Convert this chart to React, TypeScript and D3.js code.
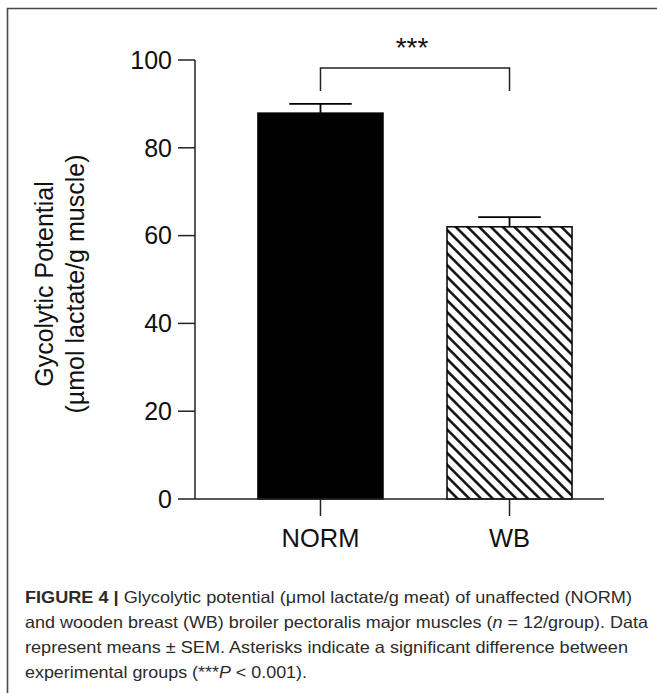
import React from "react";
import * as d3 from "d3";

// Group means and standard errors
const categories = ["NORM", "WB"];
const means = [87.9, 62.0];
const sems = [2.1, 2.2];
const yTicks = [0, 20, 40, 60, 80, 100];
const significance = "***";

const W = 657;
const H = 693;

const axisColor = "#222";
const font = "'Liberation Sans', Arial, Helvetica, sans-serif";

export default function App() {
  const y = d3.scaleLinear().domain([0, 100]).range([499, 60]);
  const x = d3
    .scaleBand<string>()
    .domain(categories)
    .range([195, 635])
    .paddingInner(0.3386)
    .paddingOuter(0.333)
    .align(0.5);
  const bw = x.bandwidth();
  const cx = (c: string) => (x(c) as number) + bw / 2;

  const axisX0 = 195;
  const axisX1 = 604;
  const bracketY = 68;
  const bracketDrop = 91;
  const hs = 8.3; // hatch spacing

  return (
    <svg
      width={W}
      height={H}
      viewBox={`0 0 ${W} ${H}`}
      style={{ position: "absolute", left: 0, top: 0, background: "#fff" }}
    >
      <defs>
        <pattern
          id="hatch"
          patternUnits="userSpaceOnUse"
          width={hs}
          height={hs}
          patternTransform="rotate(-45)"
        >
          <rect width={hs} height={hs} fill="#fff" />
          <line x1={hs / 2} y1={0} x2={hs / 2} y2={hs} stroke="#000" strokeWidth={2.4} />
        </pattern>
      </defs>

      {/* frame */}
      <path d={`M7.5,${H} V8.5 H${W}`} fill="none" stroke="#4a4a4a" strokeWidth={1.6} />

      {/* bars */}
      {categories.map((c, i) => (
        <rect
          key={c}
          x={x(c)}
          y={y(means[i])}
          width={bw}
          height={y(0) - y(means[i])}
          fill={i === 0 ? "#000" : "url(#hatch)"}
          stroke="#000"
          strokeWidth={1.5}
        />
      ))}

      {/* error bars (upper SEM) */}
      {categories.map((c, i) => (
        <g key={c} stroke="#000" strokeWidth={1.8}>
          <line x1={cx(c)} x2={cx(c)} y1={y(means[i])} y2={y(means[i] + sems[i])} />
          <line
            x1={cx(c) - bw / 4}
            x2={cx(c) + bw / 4}
            y1={y(means[i] + sems[i])}
            y2={y(means[i] + sems[i])}
          />
        </g>
      ))}

      {/* y axis */}
      <line x1={axisX0} x2={axisX0} y1={y(100)} y2={y(0)} stroke={axisColor} strokeWidth={1.5} />
      {yTicks.map((t) => (
        <g key={t}>
          <line x1={axisX0 - 17} x2={axisX0} y1={y(t)} y2={y(t)} stroke={axisColor} strokeWidth={1.5} />
          <text
            x={172}
            y={y(t)}
            dy="0.35em"
            textAnchor="end"
            fontFamily={font}
            fontSize={25}
            fill="#111"
          >
            {t}
          </text>
        </g>
      ))}

      {/* x axis */}
      <line x1={axisX0} x2={axisX1} y1={y(0)} y2={y(0)} stroke={axisColor} strokeWidth={1.5} />
      {categories.map((c) => (
        <g key={c}>
          <line x1={cx(c)} x2={cx(c)} y1={y(0)} y2={y(0) + 17} stroke={axisColor} strokeWidth={1.5} />
          <text x={cx(c)} y={547} textAnchor="middle" fontFamily={font} fontSize={25.5} fill="#111">
            {c}
          </text>
        </g>
      ))}

      {/* y axis title */}
      <g transform="translate(53,284) rotate(-90)">
        <text textAnchor="middle" fontFamily={font} fontSize={25} fill="#111">
          Gycolytic Potential
        </text>
      </g>
      <g transform="translate(84,284) rotate(-90)">
        <text textAnchor="middle" fontFamily={font} fontSize={25} fill="#111">
          (µmol lactate/g muscle)
        </text>
      </g>

      {/* significance bracket */}
      <path
        d={`M${cx(categories[0])},${bracketDrop} V${bracketY} H${cx(categories[1])} V${bracketDrop}`}
        fill="none"
        stroke={axisColor}
        strokeWidth={1.5}
      />
      <text x={412} y={57} textAnchor="middle" fontFamily={font} fontSize={28} fill="#111">
        {significance}
      </text>

      {/* caption */}
      <g fontFamily={font} fontSize={16.5} fill="#2b2b2b">
        <text x={25} y={603} textLength={607} lengthAdjust="spacingAndGlyphs">
          <tspan fontWeight="bold">FIGURE 4 | </tspan>
          Glycolytic potential (μmol lactate/g meat) of unaffected (NORM)
        </text>
        <text x={25} y={628} textLength={623} lengthAdjust="spacingAndGlyphs">
          and wooden breast (WB) broiler pectoralis major muscles (<tspan fontStyle="italic">n</tspan> = 12/group). Data
        </text>
        <text x={25} y={653} textLength={603} lengthAdjust="spacingAndGlyphs">
          represent means ± SEM. Asterisks indicate a significant difference between
        </text>
        <text x={25} y={678} textLength={282} lengthAdjust="spacingAndGlyphs">
          experimental groups (***<tspan fontStyle="italic">P</tspan> {"<"} 0.001).
        </text>
      </g>
    </svg>
  );
}
